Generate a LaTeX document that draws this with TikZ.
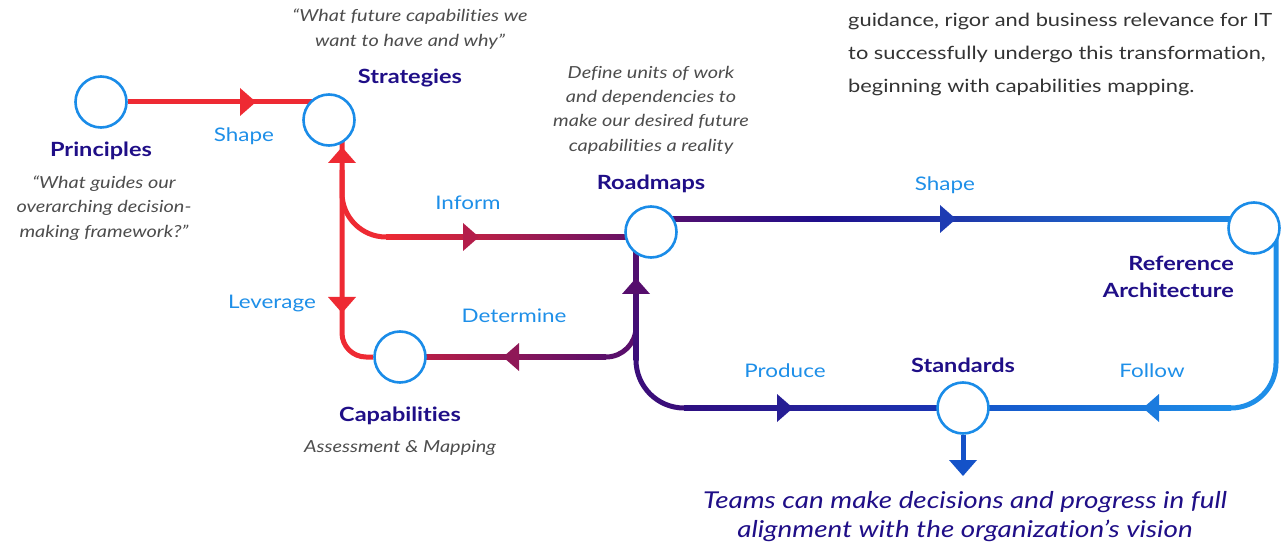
\documentclass[tikz,border=0pt]{standalone}
\usepackage{fontspec}
\setmainfont{Lato}[FakeStretch=1.2, RawFeature={-liga;-clig;-dlig}]
\usetikzlibrary{calc}
\definecolor{hubC}{HTML}{1A8CE8}
\definecolor{ttlC}{HTML}{1F0E87}
\definecolor{lblC}{HTML}{1E8FE8}
\definecolor{qtC}{HTML}{4D4D4D}
\definecolor{bodyC}{HTML}{333333}
\definecolor{rRed}{HTML}{EE2A33}
\definecolor{rCrim}{HTML}{C42042}
\definecolor{rPurp}{HTML}{5A0F6B}
\definecolor{rPurpD}{HTML}{3A0E7A}
\definecolor{rNavy}{HTML}{1E0E8C}
\definecolor{rNavyB}{HTML}{2E0E80}
\definecolor{rBlue}{HTML}{1452C8}
\definecolor{rBlueM}{HTML}{1838B8}
\definecolor{rLight}{HTML}{1E8EE8}
\definecolor{aInf}{HTML}{B41D4A}
\definecolor{aDet}{HTML}{8F1857}
\definecolor{aRoad}{HTML}{560E6D}
\definecolor{aProd}{HTML}{261D94}
\definecolor{aShp}{HTML}{1D3BB3}
\definecolor{aFol}{HTML}{1B7BDE}
\pgfdeclarelayer{bg}
\pgfsetlayers{bg,main}
\newcommand\hgrad[4]{\shade[left color=#3,right color=#4] ($(#1)+(0,-2.5)$) rectangle ($(#2)+(0,2.5)$);}
\newcommand\vgrad[4]{\shade[top color=#3,bottom color=#4] ($(#1)+(-2.5,0)$) rectangle ($(#2)+(2.5,0)$);}
\newcommand\tri[3]{\fill[#3, shift={#1}, rotate=#2] (8,0) -- (-8,14) -- (-8,-14) -- cycle;}
\begin{document}
\begin{tikzpicture}[x=1pt,y=-1pt,
 hub/.style={circle, draw=hubC, line width=2.6pt, fill=white, minimum size=51pt, inner sep=0pt},
 rail/.style={line width=5pt},
 ttl/.style={font=\bfseries\fontsize{19.6}{27}\selectfont, text=ttlC, inner sep=0pt},
 lbl/.style={font=\fontsize{18.7}{23}\selectfont, text=lblC, inner sep=0pt},
 qt/.style={font=\itshape\fontsize{16.6}{24.3}\selectfont, text=qtC, align=center, inner sep=0pt},
]
\useasboundingbox (0,0) rectangle (1282,545);
% hubs
\node[hub] (prin) at (101,102) {};
\node[hub] (strat) at (329,120) {};
\node[hub] (road) at (651,232) {};
\node[hub] (ref) at (1254,228) {};
\node[hub] (cap) at (400,357) {};
\node[hub] (std) at (963,408) {};
% helper coordinates
\coordinate (sv) at ($(strat)+(13,0)$);
\coordinate (rv) at ($(road)+(-15,0)$);
\coordinate (rt) at ($(road)+(0,-13)$);
\coordinate (rr) at ($(ref)+(22,0)$);
\coordinate (stdEnd) at ($(std)+(0,54)$);
\begin{pgfonlayer}{bg}
 % Principles -> Strategies
 \draw[rail, rRed] (prin) -- (prin -| strat);
 % Strategies <-> Capabilities (Leverage)
 \draw[rail, rRed, rounded corners=24] (sv) |- (cap);
 % Inform
 \draw[rail, rRed, rounded corners=44] ($(sv)+(0,50)$) |- ($(road)+(0,5)$);
 \coordinate (inA) at ($(sv |- road)+(44,5)$);
 \coordinate (inB) at ($(road)+(0,5)$);
 \hgrad{inA}{inB}{rRed}{rPurp}
 % Determine
 \draw[rail, rPurp, rounded corners=30] (rv) |- (cap);
 \coordinate (deA) at (cap);
 \coordinate (deB) at ($(rv |- cap)+(-30,0)$);
 \hgrad{deA}{deB}{rCrim}{rPurp}
 % Produce
 \draw[rail, rPurpD, rounded corners=48] (rv) |- (std);
 \coordinate (vA) at (rv);
 \coordinate (vB) at ($(rv |- std)+(0,-48)$);
 \vgrad{vA}{vB}{rPurp}{rPurpD}
 \coordinate (prA) at ($(rv |- std)+(48,0)$);
 \hgrad{prA}{std}{rNavyB}{rBlueM}
 % Shape (Roadmaps -> Reference Architecture)
 \draw[rail, rNavy] (rt) -- (rt -| ref);
 \coordinate (shM) at ($(rt)+(170,0)$);
 \coordinate (shE) at (rt -| ref);
 \hgrad{rt}{shM}{rPurp}{rNavy}
 \hgrad{shM}{shE}{rNavy}{rLight}
 % Follow
 \draw[rail, rLight, rounded corners=45] (rr) |- (std);
 \coordinate (foB) at ($(rr |- std)+(-45,0)$);
 \hgrad{std}{foB}{rBlue}{rLight}
 % Standards -> outcome
 \draw[rail, rBlue] (std) -- (stdEnd);
 % arrowheads
 \tri{(248,102)}{0}{rRed}
 \tri{(342,155)}{90}{rRed}
 \tri{(342,305)}{-90}{rRed}
 \tri{(471,237)}{0}{aInf}
 \tri{(511,357)}{180}{aDet}
 \tri{(636,286)}{90}{aRoad}
 \tri{(785,408)}{0}{aProd}
 \tri{(948,219)}{0}{aShp}
 \tri{(1151,408)}{180}{aFol}
 \tri{(963,468)}{-90}{rBlue}
\end{pgfonlayer}
% labels on rails
\node[lbl] (lShape1) at (244,136) {Shape};
\node[lbl] (lInform) at (468,203) {Inform};
\node[lbl] (lLever) at (272,304) {Leverage};
\node[lbl] (lDeterm) at (514,316) {Determine};
\node[lbl] (lShape2) at (945,185) {Shape};
\node[lbl] (lProd) at (785,371) {Produce};
\node[lbl] (lFollow) at (1152,371) {Follow};
% titles
\node[ttl] (tPrin) at (101,151) {Principles};
\node[ttl] (tStrat) at (410,78) {Strategies};
\node[ttl] (tRoad) at (651,184) {Roadmaps};
\node[ttl] (tCap) at (400,416) {Capabilities};
\node[ttl] (tStd) at (963,365) {Standards};
\node[ttl, align=right, anchor=east] (tRef) at (1234,277) {Reference\\Architecture};
% quotes
\node[qt] (qPrin) at (104,208) {“What guides our\\overarching decision-\\making framework?”};
\node[qt] (qStrat) at (410,29) {“What future capabilities we\\want to have and why”};
\node[qt] (qRoad) at (651,110) {Define units of work\\and dependencies to\\make our desired future\\capabilities a reality};
\node[qt] (qCap) at (400,448) {Assessment \& Mapping};
% body text
\node[font=\fontsize{18.2}{33}\selectfont, text=bodyC, align=left, anchor=west, inner sep=0pt] (body) at (848,54.5) {guidance, rigor and business relevance for IT\\to successfully undergo this transformation,\\beginning with capabilities mapping.};
% outcome
\node[font=\itshape\fontsize{23.2}{29}\selectfont, text=ttlC, align=center, inner sep=0pt] (outcome) at (965,517) {Teams can make decisions and progress in full\\alignment with the organization’s vision};
\end{tikzpicture}
\end{document}
